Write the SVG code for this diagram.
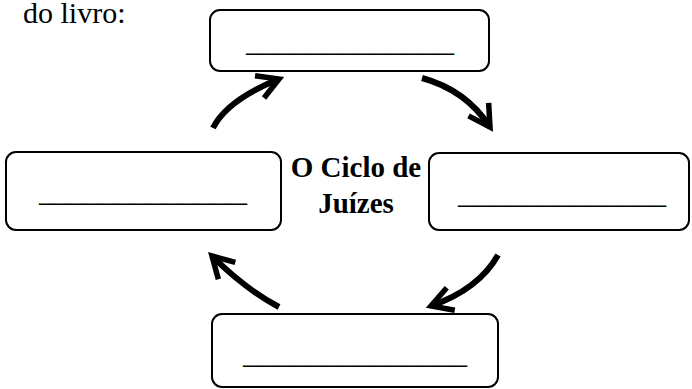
<svg xmlns="http://www.w3.org/2000/svg" width="692" height="389" viewBox="0 0 692 389">
<defs>
<style>
.box{fill:#fff;stroke:#000;stroke-width:2}
.blank{font-family:"Liberation Serif","Times New Roman",serif;font-size:32px;fill:#000}
.title{font-family:"Liberation Serif","Times New Roman",serif;font-size:29px;font-weight:bold;fill:#000;text-anchor:middle}
.intro{font-family:"Liberation Serif","Times New Roman",serif;font-size:30px;fill:#000}
.arrow{fill:none;stroke:#000;stroke-width:6;marker-end:url(#head)}
</style>
<marker id="head" markerUnits="userSpaceOnUse" viewBox="-30 -20 40 40" refX="0" refY="0" markerWidth="40" markerHeight="40" orient="auto" overflow="visible">
<path d="M-21,-12 L0,0 L-21,12" fill="none" stroke="#000" stroke-width="5.5" stroke-linejoin="miter" stroke-linecap="butt"/>
</marker>
</defs>
<rect width="692" height="389" fill="#fff"/>
<text class="intro" x="23" y="23">do livro:</text>
<g id="center-label">
<text class="title" x="356" y="177">O Ciclo de</text>
<text class="title" x="356" y="213">Juízes</text>
</g>
<g id="node-top">
<rect class="box" x="210" y="10" width="279" height="61" rx="10"/>
<text class="blank" x="246" y="51">_____________</text>
</g>
<g id="node-right">
<rect class="box" x="429" y="153" width="260" height="77" rx="10"/>
<text class="blank" x="458" y="203">_____________</text>
</g>
<g id="node-bottom">
<rect class="box" x="212" y="314" width="286" height="73" rx="10"/>
<text class="blank" x="243" y="363">______________</text>
</g>
<g id="node-left">
<rect class="box" x="6" y="152" width="275" height="78" rx="10"/>
<text class="blank" x="39" y="201">_____________</text>
</g>
<g id="connectors">
<path class="arrow" d="M213,128 Q227,100 279,79"/>
<path class="arrow" d="M422,78 Q466,90 490,127"/>
<path class="arrow" d="M498,255 Q479,289 431,306"/>
<path class="arrow" d="M279,307 Q245,289 212,256"/>
</g>
</svg>
